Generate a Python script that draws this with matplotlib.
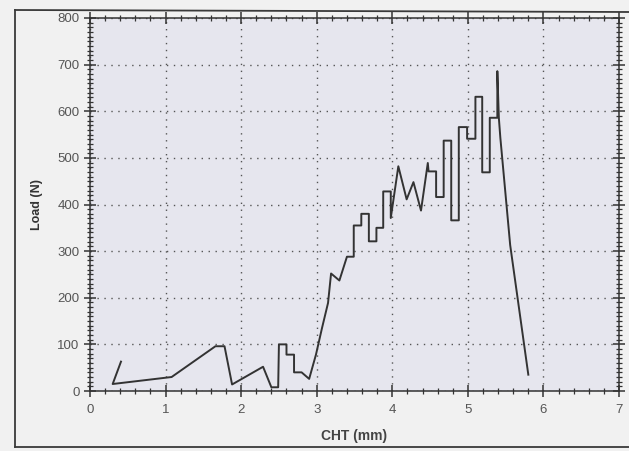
import matplotlib
matplotlib.use("Agg")
import matplotlib.pyplot as plt
from matplotlib.ticker import MultipleLocator
from matplotlib.lines import Line2D

plt.rcParams['font.family'] = ['Liberation Sans', 'DejaVu Sans']

cht_mm = [0.41, 0.30, 1.08, 1.66, 1.78, 1.88, 2.29, 2.40, 2.49, 2.50, 2.60, 2.60,
          2.70, 2.70, 2.80, 2.90, 2.99, 3.07, 3.15, 3.19, 3.30, 3.40, 3.49, 3.49,
          3.59, 3.59, 3.69, 3.69, 3.79, 3.79, 3.88, 3.88, 3.98, 3.98, 4.08, 4.19,
          4.28, 4.38, 4.47, 4.48, 4.58, 4.58, 4.68, 4.68, 4.78, 4.78, 4.88, 4.88,
          4.99, 4.99, 5.10, 5.10, 5.19, 5.19, 5.29, 5.29, 5.39, 5.39, 5.41, 5.43,
          5.56, 5.80]
load_n = [63, 15, 30, 96, 96, 14, 52, 8, 8, 100, 100, 78,
          78, 40, 40, 26, 78, 135, 189, 252, 237, 288, 288, 355,
          355, 380, 380, 321, 321, 350, 350, 428, 428, 371, 482, 411,
          448, 387, 489, 471, 471, 416, 416, 537, 537, 366, 366, 566,
          566, 541, 541, 631, 631, 469, 469, 586, 586, 686, 586, 543,
          313, 35]

x_ticks = [0, 1, 2, 3, 4, 5, 6, 7]
y_ticks = [0, 100, 200, 300, 400, 500, 600, 700, 800]

fig = plt.figure(figsize=(6.29, 4.51), dpi=100)
fig.patch.set_facecolor('#f1f1f1')

# outer frame of the scanned chart
frame_col = '#3a3a3a'
fig.add_artist(Line2D([15/629, 15/629], [1-447/451, 1-10/451], transform=fig.transFigure, color=frame_col, lw=1.3))
fig.add_artist(Line2D([15/629, 1.0], [1-10/451, 1-12/451], transform=fig.transFigure, color=frame_col, lw=1.3))
fig.add_artist(Line2D([15/629, 1.0], [1-447/451, 1-447/451], transform=fig.transFigure, color=frame_col, lw=1.3))

ax = fig.add_axes([90/629, 1-391/451, (619-90)/629, (391-18)/451])
ax.set_facecolor('#e6e6ee')

ax.plot(cht_mm, load_n, color='#333333', lw=1.4)

ax.set_xlim(0, 7)
ax.set_ylim(0, 800)
ax.set_xticks(x_ticks)
ax.set_yticks(y_ticks)
ax.xaxis.set_minor_locator(MultipleLocator(0.2))
ax.yaxis.set_minor_locator(MultipleLocator(10))

ax.grid(True, which='major', color='#555555', linestyle=(0, (1, 4)), lw=1.0)

ax.tick_params(axis='both', which='major', direction='inout', length=9, width=1.1,
               color='#333333', labelsize=9.5, labelcolor='#555555')
ax.tick_params(axis='both', which='minor', direction='inout', length=5, width=0.9, color='#333333')
ax.tick_params(axis='x', which='major', pad=5)
ax.tick_params(axis='y', which='major', pad=3)
ax.tick_params(top=True, right=True, which='both')

for s in ax.spines.values():
    s.set_color('#333333')
    s.set_linewidth(1.1)

ax.set_xlabel('CHT (mm)', fontsize=10, fontweight='bold', color='#444444', labelpad=9)
ax.set_ylabel('Load (N)', fontsize=9, fontweight='bold', color='#333333', labelpad=10)

fig.savefig('out.png', dpi=100, facecolor=fig.get_facecolor())
